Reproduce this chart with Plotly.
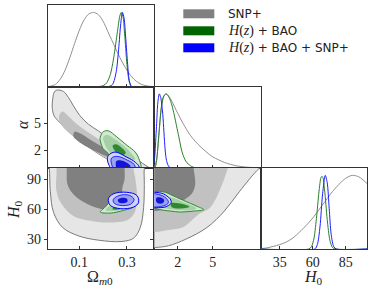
import plotly.graph_objects as go

# ---------------- data ----------------
OM_RANGE = [-0.033, 0.415]
AL_RANGE = [0.0, 9.1]
H0_RANGE = [20.5, 101.2]
OM_TICKS = [0.1, 0.3]
AL_TICKS = [2, 5]
H0_YTICKS = [30, 60, 90]
H0_XTICKS = [35, 60, 85]
LEGEND_LABELS = ["SNP+",
                 '<span style="font-family:Liberation Serif;font-size:14px"><i>H</i>(<i>z</i>)</span> + BAO',
                 '<span style="font-family:Liberation Serif;font-size:14px"><i>H</i>(<i>z</i>)</span> + BAO + SNP+']

# 1D marginals (normalised to peak 1)
OM_SNP_X = [-0.03, -0.02, 0.0, 0.02, 0.04, 0.06, 0.08, 0.10, 0.12, 0.14, 0.16, 0.18, 0.20, 0.22, 0.24, 0.26, 0.28, 0.30, 0.32, 0.34, 0.36, 0.38, 0.40, 0.415]
OM_SNP_P = [0.0, 0.005, 0.03, 0.1, 0.22, 0.39, 0.58, 0.76, 0.9, 0.98, 1.0, 0.97, 0.88, 0.74, 0.6, 0.46, 0.33, 0.22, 0.13, 0.07, 0.03, 0.01, 0.002, 0.0]
OM_HB_X = [-0.03, 0.18, 0.20, 0.215, 0.23, 0.245, 0.26, 0.27, 0.276, 0.283, 0.29, 0.30, 0.31, 0.32, 0.415]
OM_HB_P = [0.0, 0.0, 0.01, 0.05, 0.16, 0.4, 0.74, 0.95, 1.0, 0.95, 0.72, 0.3, 0.06, 0.0, 0.0]
OM_ALL_X = [-0.03, 0.225, 0.24, 0.255, 0.265, 0.274, 0.281, 0.288, 0.295, 0.303, 0.31, 0.32, 0.415]
OM_ALL_P = [0.0, 0.0, 0.03, 0.2, 0.5, 0.85, 1.0, 0.92, 0.65, 0.3, 0.08, 0.0, 0.0]

AL_SNP_X = [0.0, 0.2, 0.4, 0.6, 0.8, 1.0, 1.2, 1.5, 2.0, 2.5, 3.0, 3.5, 4.0, 4.5, 5.0, 5.5, 6.0, 6.5, 7.0, 7.5, 8.0, 8.5, 9.1]
AL_SNP_P = [0.0, 0.12, 0.45, 0.8, 0.96, 1.0, 0.98, 0.9, 0.74, 0.59, 0.46, 0.36, 0.28, 0.21, 0.15, 0.11, 0.075, 0.05, 0.03, 0.018, 0.01, 0.005, 0.0]
AL_HB_X = [0.0, 0.1, 0.2, 0.4, 0.6, 0.8, 1.0, 1.1, 1.3, 1.5, 1.7, 1.9, 2.1, 2.35, 2.6, 2.8, 3.2, 3.6, 9.1]
AL_HB_P = [0.0, 0.02, 0.1, 0.48, 0.82, 0.97, 1.0, 0.99, 0.94, 0.85, 0.72, 0.57, 0.42, 0.23, 0.12, 0.07, 0.02, 0.0, 0.0]
AL_ALL_X = [0.0, 0.07, 0.2, 0.3, 0.43, 0.55, 0.7, 0.8, 0.9, 1.0, 1.1, 1.2, 1.4, 9.1]
AL_ALL_P = [0.08, 0.23, 0.6, 0.88, 1.0, 0.95, 0.77, 0.55, 0.3, 0.14, 0.07, 0.03, 0.0, 0.0]

H0_SNP_X = [20.5, 25, 30, 35, 40, 45, 50, 55, 60, 65, 70, 75, 80, 85, 90, 95, 101.2]
H0_SNP_P = [0.005, 0.015, 0.035, 0.06, 0.095, 0.15, 0.23, 0.32, 0.42, 0.54, 0.66, 0.78, 0.88, 0.96, 1.0, 0.98, 0.89]
H0_HB_X = [20.5, 57, 59, 61, 63, 65, 66.5, 67.5, 69, 71, 73, 75, 77, 101.2]
H0_HB_P = [0.0, 0.0, 0.03, 0.15, 0.45, 0.82, 0.98, 0.98, 0.8, 0.4, 0.12, 0.02, 0.0, 0.0]
H0_ALL_X = [20.5, 61.5, 63.5, 65.5, 67.5, 69.5, 71, 72.5, 74, 76, 78, 101.2]
H0_ALL_P = [0.0, 0.0, 0.06, 0.3, 0.75, 1.0, 0.9, 0.55, 0.2, 0.03, 0.0, 0.0]

# 2D credible regions: (outer, middle, inner) boundaries
OA_SNP = [
    ([0.005, 0.033, 0.054, 0.075, 0.103, 0.138, 0.18, 0.236, 0.293, 0.342, 0.39, 0.43, 0.40, 0.30, 0.27, 0.25, 0.208, 0.152, 0.095, 0.053, 0.018, -0.006, -0.014, -0.011, -0.006],
     [8.7, 8.55, 7.89, 6.95, 5.83, 4.89, 4.14, 3.0, 1.89, 0.95, 0.1, -0.5, -0.7, -0.7, 0.02, 0.47, 1.14, 2.08, 3.2, 4.14, 5.08, 5.83, 6.76, 7.89, 8.45]),
    ([0.028, 0.05, 0.085, 0.13, 0.18, 0.23, 0.28, 0.32, 0.33, 0.26, 0.235, 0.19, 0.14, 0.09, 0.045, 0.02, 0.015],
     [6.3, 5.9, 5.0, 4.1, 3.25, 2.3, 1.25, 0.3, -0.5, -0.5, 0.6, 1.45, 2.3, 3.2, 4.2, 5.0, 5.8]),
    ([0.08, 0.10, 0.138, 0.194, 0.235, 0.25, 0.225, 0.166, 0.11, 0.075],
     [4.05, 3.9, 3.3, 2.4, 1.7, 1.3, 1.25, 1.9, 2.7, 3.55]),
]
OA_HB = [
    ([0.19, 0.20, 0.222, 0.258, 0.30, 0.335, 0.353, 0.358, 0.33, 0.26, 0.222, 0.20, 0.19, 0.187],
     [3.6, 4.05, 4.15, 3.46, 2.53, 1.78, 0.84, 0.0, -0.3, -0.2, 1.6, 2.16, 2.8, 3.3]),
    ([0.2, 0.215, 0.25, 0.29, 0.32, 0.335, 0.3, 0.25, 0.22, 0.205],
     [3.4, 3.7, 3.2, 2.4, 1.6, 1.0, 0.8, 1.2, 2.0, 2.8]),
    ([0.24, 0.255, 0.28, 0.295, 0.285, 0.26, 0.245],
     [2.5, 2.65, 2.2, 1.7, 1.45, 1.65, 2.1]),
]
OA_ALL = [
    ([0.222, 0.25, 0.30, 0.335, 0.352, 0.35, 0.24, 0.225, 0.218],
     [1.4, 1.78, 1.2, 0.65, 0.1, -0.3, -0.3, 0.3, 0.9]),
    ([0.235, 0.26, 0.30, 0.33, 0.335, 0.25, 0.235],
     [1.1, 1.3, 0.9, 0.4, -0.3, -0.3, 0.5]),
    ([0.255, 0.275, 0.30, 0.315, 0.30, 0.26],
     [0.75, 0.85, 0.6, 0.2, -0.2, -0.2]),
]
OH_SNP = [
    ([-0.026, -0.022, -0.008, 0.03, 0.096, 0.18, 0.279, 0.328, 0.356, 0.370, 0.373, 0.373, 0.38, -0.03],
     [100.5, 78, 56.7, 41.9, 33.6, 29.3, 28, 31.3, 41.9, 61.7, 84.7, 100.5, 106, 106]),
    ([0.004, 0.004, 0.026, 0.075, 0.152, 0.236, 0.307, 0.335, 0.342, 0.335, 0.328, 0.33, 0.0],
     [100.5, 78, 65, 53.5, 48.5, 47, 50, 58.4, 75, 91, 100.5, 106, 106]),
    ([0.047, 0.05, 0.075, 0.124, 0.18, 0.23, 0.27, 0.285, 0.28, 0.29, 0.29, 0.29, 0.045],
     [101.2, 85, 75, 66.5, 61, 59, 62, 70, 80, 90, 101.2, 106, 106]),
]
OH_HB = [
    ([0.188, 0.23, 0.286, 0.328, 0.349, 0.33, 0.28, 0.23, 0.216, 0.195],
     [57.3, 56.3, 59, 62.3, 67, 72, 74, 69, 64, 59.5]),
    ([0.21, 0.25, 0.30, 0.33, 0.32, 0.26, 0.225],
     [59, 58.5, 60.5, 63.5, 68, 68, 63]),
    ([0.24, 0.28, 0.31, 0.29, 0.25],
     [60, 60.5, 63, 66, 64]),
]
OH_ALL = [
    ([0.222, 0.243, 0.3, 0.342, 0.349, 0.328, 0.272, 0.23],
     [70.6, 75.5, 77, 73.8, 67, 62.3, 60.7, 64]),
    ([0.243, 0.27, 0.31, 0.33, 0.315, 0.27, 0.245],
     [70, 74, 74, 70, 65, 64, 66.5]),
    ([0.262, 0.28, 0.30, 0.302, 0.285, 0.265],
     [69.5, 71.5, 70.5, 67.5, 66, 67]),
]
AH_SNP = [
    ([-0.5, 9.6, 8.94, 7.3, 6.0, 4.5, 2.7, 1.2, 0.09, -0.5],
     [106, 106, 100.5, 78, 58.4, 41.9, 30.3, 23.7, 22, 22]),
    ([-0.5, 6.5, 6.3, 5.8, 4.8, 3.8, 2.5, 1.23, 0.1, -0.5],
     [106, 106, 101.2, 84.7, 62, 55, 42.5, 39.5, 37.5, 37.5]),
    ([-0.5, 3.4, 3.37, 3.5, 3.23, 2.6, 1.6, 0.95, 0.1, -0.5],
     [106, 106, 101.2, 85, 76, 69.9, 64, 60, 58.4, 58.4]),
]
AH_HB = [
    ([0.05, 0.95, 1.37, 2.5, 3.66, 4.23, 3.37, 2.23, 1.37, 0.4, 0.05],
     [77, 77, 74.8, 68.9, 63, 59.7, 58.3, 57.3, 58.3, 60, 62]),
    ([0.5, 1.4, 2.5, 3.6, 3.4, 2.3, 1.4, 0.5],
     [72, 72, 67, 61, 59.5, 59, 60, 63]),
    ([1.4, 2.5, 3.0, 2.5, 1.5],
     [66, 65, 62.5, 61, 62]),
]
AH_ALL = [
    ([-0.3, 0.06, 0.77, 1.34, 1.45, 1.4, 0.92, 0.2, -0.3],
     [77, 77, 75.5, 70.6, 68, 65.6, 62.3, 61.7, 62]),
    ([-0.3, 0.6, 1.1, 1.2, 0.8, -0.3],
     [75, 74, 70, 66.5, 63.5, 63.5]),
    ([0.2, 0.6, 0.85, 0.7, 0.3, 0.15],
     [71.5, 71.5, 69, 66, 66, 68.5]),
]

# ---------------- styling ----------------
W, H = 374, 291
GRAY = dict(line='#7a7a7a', fills=['#e6e6e6', '#c1c1c1', '#808080'], lw=[1.0, 0, 0], c1d='#8f8f8f')
GREEN = dict(line='#2e8b2e', fills=['#d3e8d3', '#a5cfa5', '#2f8a2f'], lw=[1.0, 0, 0], c1d='#2a7f2a')
BLUE = dict(line='#0000ff', fills=['#d0d5f6', '#9aa1ef', '#1414d8'], lw=[1.0, 0.8, 0], c1d='#1f1fff')
SERIF = 'Liberation Serif'

COLS = [(47.7, 154.3), (154.3, 260.7), (260.7, 367.0)]
ROWS = [(5.0, 86.5), (86.5, 168.0), (168.0, 249.0)]


def px(x):
    return x / W


def py(y):
    return 1 - y / H


def xdom(c):
    return [px(COLS[c][0]), px(COLS[c][1])]


def ydom(r):
    return [py(ROWS[r][1]), py(ROWS[r][0])]


fig = go.Figure()


def add_regions(levels, style, ax):
    for i, (xs, ys) in enumerate(levels):
        xs = list(xs) + [xs[0]]
        ys = list(ys) + [ys[0]]
        lw = style['lw'][i]
        fig.add_trace(go.Scatter(
            x=xs, y=ys, xaxis='x' + ax, yaxis='y' + ax, mode='lines',
            fill='toself', fillcolor=style['fills'][i],
            line=dict(color=style['line'] if lw else 'rgba(0,0,0,0)', width=lw if lw else 0.1,
                      shape='spline', smoothing=1.0),
            hoverinfo='skip', showlegend=False))


def add_1d(xs, ps, style, ax):
    fig.add_trace(go.Scatter(
        x=xs, y=ps, xaxis='x' + ax, yaxis='y' + ax, mode='lines',
        line=dict(color=style['c1d'], width=1.0, shape='spline', smoothing=0.8),
        hoverinfo='skip', showlegend=False))


add_1d(OM_SNP_X, OM_SNP_P, GRAY, '1')
add_1d(OM_HB_X, OM_HB_P, GREEN, '1')
add_1d(OM_ALL_X, OM_ALL_P, BLUE, '1')
add_regions(OA_SNP, GRAY, '2')
add_regions(OA_HB, GREEN, '2')
add_regions(OA_ALL, BLUE, '2')
add_1d(AL_SNP_X, AL_SNP_P, GRAY, '3')
add_1d(AL_HB_X, AL_HB_P, GREEN, '3')
add_1d(AL_ALL_X, AL_ALL_P, BLUE, '3')
add_regions(OH_SNP, GRAY, '4')
add_regions(OH_HB, GREEN, '4')
add_regions(OH_ALL, BLUE, '4')
add_regions(AH_SNP, GRAY, '5')
add_regions(AH_HB, GREEN, '5')
add_regions(AH_ALL, BLUE, '5')
add_1d(H0_SNP_X, H0_SNP_P, GRAY, '6')
add_1d(H0_HB_X, H0_HB_P, GREEN, '6')
add_1d(H0_ALL_X, H0_ALL_P, BLUE, '6')

AXC = '#333333'
TF = dict(family=SERIF, size=14, color='#222222')


def axis(dom, rng, anchor, tickvals=None, labels=False, ticks='outside'):
    d = dict(domain=dom, range=rng, anchor=anchor, showline=True, mirror=True,
             linecolor=AXC, linewidth=1, showgrid=False, zeroline=False,
             fixedrange=True, tickfont=TF, ticklen=3, tickcolor=AXC, tickwidth=1)
    if tickvals:
        d.update(tickmode='array', tickvals=tickvals, ticks=ticks,
                 showticklabels=labels, ticktext=[str(v) for v in tickvals])
    else:
        d.update(ticks='', showticklabels=False)
    return d


layout = dict(
    width=W, height=H, margin=dict(l=0, r=0, t=0, b=0),
    paper_bgcolor='white', plot_bgcolor='white', showlegend=False,
    xaxis=axis(xdom(0), OM_RANGE, 'y', OM_TICKS, False, 'inside'),
    yaxis=axis(ydom(0), [0, 1.1], 'x'),
    xaxis2=axis(xdom(0), OM_RANGE, 'y2', OM_TICKS, False, 'inside'),
    yaxis2=axis(ydom(1), AL_RANGE, 'x2', AL_TICKS, True),
    xaxis3=axis(xdom(1), AL_RANGE, 'y3', AL_TICKS, False, 'inside'),
    yaxis3=axis(ydom(1), [0, 1.1], 'x3'),
    xaxis4=axis(xdom(0), OM_RANGE, 'y4', OM_TICKS, True, 'inside'),
    yaxis4=axis(ydom(2), H0_RANGE, 'x4', H0_YTICKS, True),
    xaxis5=axis(xdom(1), AL_RANGE, 'y5', AL_TICKS, True, 'inside'),
    yaxis5=axis(ydom(2), H0_RANGE, 'x5', H0_YTICKS, False),
    xaxis6=axis(xdom(2), H0_RANGE, 'y6', H0_XTICKS, True, 'inside'),
    yaxis6=axis(ydom(2), [0, 1.1], 'x6'),
)
fig.update_layout(**layout)

TT = dict(family=SERIF, size=16, color='#222222')
ann = [
    dict(x=px(100), y=py(277), text='Ω<sub><i>m</i>0</sub>', textangle=0),
    dict(x=px(313), y=py(277), text='<i>H</i><sub>0</sub>', textangle=0),
    dict(x=px(22), y=py(125), text='<i>α</i>', textangle=-90),
    dict(x=px(14), y=py(209), text='<i>H</i><sub>0</sub>', textangle=-90),
]
for a in ann:
    fig.add_annotation(xref='paper', yref='paper', showarrow=False, font=TT,
                       xanchor='center', yanchor='middle', **a)

LEG_COLORS = ['#808080', '#006400', '#0000ff']
LEG_Y = [13.8, 30.8, 47.8]
for lab, col, yc in zip(LEGEND_LABELS, LEG_COLORS, LEG_Y):
    fig.add_shape(type='rect', xref='paper', yref='paper',
                  x0=px(183.3), x1=px(214.3), y0=py(yc + 4.5), y1=py(yc - 4.5),
                  fillcolor=col, line=dict(width=0))
    fig.add_annotation(xref='paper', yref='paper', x=px(226), y=py(yc), text=lab,
                       showarrow=False, xanchor='left', yanchor='middle',
                       font=dict(family='DejaVu Sans', size=12, color='#222222'))

fig.write_html('out.html', config={'displayModeBar': False},
               post_script="document.body.style.margin='0px';")
